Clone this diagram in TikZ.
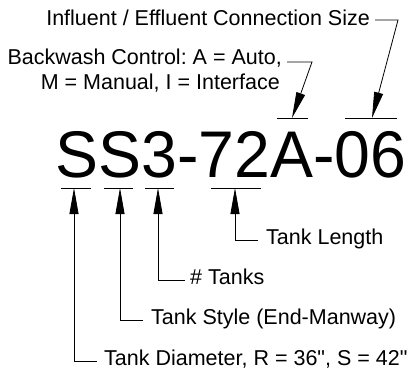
\documentclass[tikz,border=0pt]{standalone}
\usepackage{fontspec}
\newfontfamily\arialfont{Liberation Sans}
\usetikzlibrary{arrows.meta}
\frenchspacing
\begin{document}
\begin{tikzpicture}[x=1pt,y=-1pt,
  lbl/.style={inner sep=0pt, font=\arialfont\fontsize{21.5}{25}\selectfont\frenchspacing},
  wire/.style={line width=0.8pt},
  ptr/.style={wire,-{Triangle[length=26pt,width=9pt]}}]
\useasboundingbox (0,0) rectangle (415,373);
% model code
\node[inner sep=0pt, anchor=base, xscale=0.975, font=\arialfont\fontsize{66}{70}\selectfont] (code) at (231,177) {SS3-72A-06};
% labels
\node[lbl, anchor=base east] (infl) at (370,25) {Influent / Effluent Connection Size};
\node[lbl, anchor=base east] (bw1) at (282,64) {Backwash Control: A = Auto,};
\node[lbl, anchor=base east] (bw2) at (280,89) {M = Manual, I = Interface};
\node[lbl, anchor=base west] (len) at (266,244) {Tank Length};
\node[lbl, anchor=base west] (num) at (190,284) {\# Tanks};
\node[lbl, anchor=base west] (sty) at (151,324) {Tank Style (End-Manway)};
\node[lbl, anchor=base west] (dia) at (104,365) {Tank Diameter, R = 36", S = 42"};
% underline marks
\coordinate (ua1) at (61,188);  \coordinate (ua2) at (91,188);
\coordinate (ub1) at (104,188); \coordinate (ub2) at (133,188);
\coordinate (uc1) at (145,188); \coordinate (uc2) at (174,188);
\coordinate (ud1) at (211,188); \coordinate (ud2) at (261,188);
\coordinate (ue1) at (277,118); \coordinate (ue2) at (308,118);
\coordinate (uf1) at (345,118); \coordinate (uf2) at (397,118);
\foreach \u in {a,b,c,d,e,f} \draw[wire] (u\u1) -- (u\u2);
% leader points
\coordinate (dia0) at (97,361); \coordinate (diaC) at (74,361); \coordinate (diaT) at (74,188);
\coordinate (sty0) at (143,320); \coordinate (styC) at (120,320); \coordinate (styT) at (120,188);
\coordinate (num0) at (185,280); \coordinate (numC) at (158,280); \coordinate (numT) at (158,188);
\coordinate (len0) at (258,240); \coordinate (lenC) at (235,240); \coordinate (lenT) at (235,188);
\coordinate (bw0) at (287,62); \coordinate (bwC) at (312,62); \coordinate (bwT) at (292,118);
\coordinate (inf0) at (375,20); \coordinate (infC) at (398,20); \coordinate (infT) at (372,118);
% leaders
\draw[ptr] (dia0) -- (diaC) -- (diaT);
\draw[ptr] (sty0) -- (styC) -- (styT);
\draw[ptr] (num0) -- (numC) -- (numT);
\draw[ptr] (len0) -- (lenC) -- (lenT);
\draw[ptr] (bw0) -- (bwC) -- (bwT);
\draw[ptr] (inf0) -- (infC) -- (infT);
\end{tikzpicture}
\end{document}
